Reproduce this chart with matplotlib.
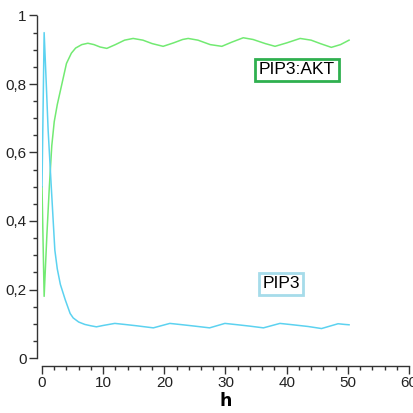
import matplotlib
matplotlib.use("Agg")
import matplotlib.pyplot as plt
from matplotlib.ticker import MultipleLocator, FuncFormatter

# ---- data ----
t_akt = [0, 0.35, 0.8, 1.2, 1.6, 2.0, 2.5, 3.0, 3.5, 4.0, 4.8, 5.5, 6.5, 7.5, 8.5,
         9.5, 10.6, 12, 13.5, 14.9, 16.5, 18, 19.8, 21.5, 23, 23.9, 25.5, 27.5,
         29.4, 31, 32.9, 34.5, 36.5, 38.1, 40, 42.2, 44, 45.5, 47.3, 48.8, 50.2]
v_akt = [0.5, 0.18, 0.36, 0.50, 0.62, 0.69, 0.74, 0.78, 0.82, 0.86, 0.89, 0.905,
         0.915, 0.919, 0.915, 0.908, 0.904, 0.915, 0.928, 0.933, 0.928, 0.918,
         0.91, 0.92, 0.93, 0.933, 0.928, 0.915, 0.91, 0.922, 0.935, 0.93, 0.918,
         0.91, 0.92, 0.933, 0.928, 0.918, 0.907, 0.915, 0.928]

t_pip3 = [0, 0.35, 0.7, 1.0, 1.5, 2.1, 2.5, 3.0, 3.8, 4.6, 5.1, 6, 7, 8, 8.9, 10,
          11.9, 13.5, 15.5, 18.2, 20.9, 23, 25, 27.4, 29.9, 32, 34, 36.2, 38.9,
          41, 43.5, 45.7, 48.4, 49.5, 50.2]
v_pip3 = [0.5, 0.95, 0.80, 0.666, 0.505, 0.315, 0.26, 0.215, 0.17, 0.13, 0.117,
          0.105, 0.098, 0.094, 0.091, 0.095, 0.101, 0.098, 0.094, 0.088, 0.101,
          0.097, 0.093, 0.088, 0.101, 0.097, 0.093, 0.088, 0.101, 0.097, 0.092,
          0.086, 0.100, 0.098, 0.097]

label_akt = "PIP3:AKT"
label_pip3 = "PIP3"
x_label = "h"

font = "Liberation Sans"

fig = plt.figure(figsize=(4.14, 4.13), dpi=100)
ax = fig.add_axes([42/414, 55/413, 367/414, 342.5/413])

ax.plot(t_akt, v_akt, color="#72ea72", lw=1.1)
ax.plot(t_pip3, v_pip3, color="#5cd2f0", lw=1.1)

ax.set_xlim(0, 60)
ax.set_ylim(0, 1)
for s in ("top", "right"):
    ax.spines[s].set_visible(False)
ax.spines["left"].set_position(("outward", 3.6))
ax.spines["bottom"].set_position(("outward", 5.8))
for s in ("left", "bottom"):
    ax.spines[s].set_color("#333333")
    ax.spines[s].set_linewidth(1.0)

ax.xaxis.set_major_locator(MultipleLocator(10))
ax.xaxis.set_minor_locator(MultipleLocator(2))
ax.yaxis.set_major_locator(MultipleLocator(0.2))
ax.yaxis.set_minor_locator(MultipleLocator(0.05))
ax.yaxis.set_major_formatter(FuncFormatter(lambda v, p: ("%g" % round(v, 2)).replace(".", ",")))
ax.tick_params(which="major", length=5.5, width=1, color="#333333", pad=2,
               labelsize=11, labelcolor="#222222")
ax.tick_params(which="minor", length=3, width=1, color="#333333")
for lab in ax.get_xticklabels() + ax.get_yticklabels():
    lab.set_family(font)

ax.set_xlabel(x_label, fontsize=12.5, fontweight="bold", labelpad=1, family="DejaVu Sans")

ax.text(297, 413-70, label_akt, transform=None, fontsize=12.5, family=font,
        ha="center", va="center",
        bbox=dict(boxstyle="square,pad=0.2", fc="white", ec="#2fb04f", lw=2))
ax.text(281, 413-284, label_pip3, transform=None, fontsize=12.5, family=font,
        ha="center", va="center",
        bbox=dict(boxstyle="square,pad=0.2", fc="white", ec="#a6dcea", lw=2))

fig.savefig("out.png", dpi=100)
